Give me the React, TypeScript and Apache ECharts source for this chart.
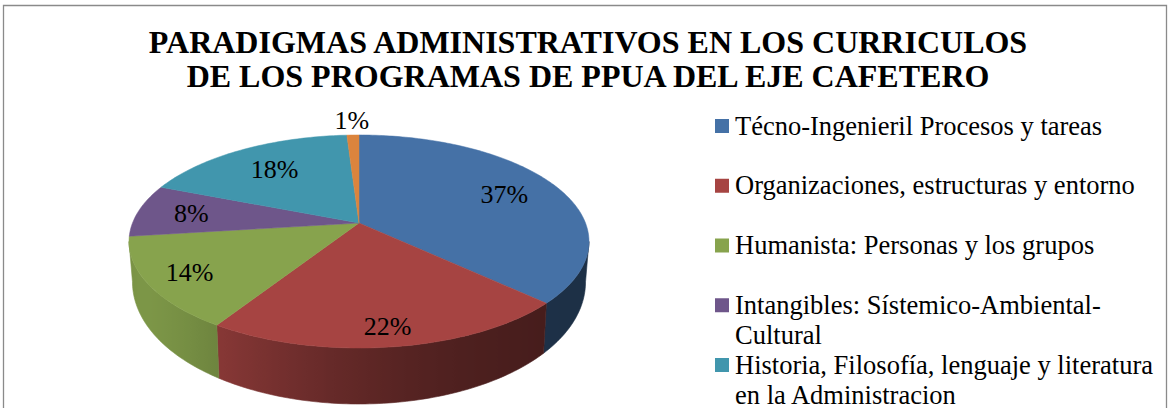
import React, { useEffect, useRef } from "react";
import * as echarts from "echarts";

// ---------- data ----------
const titleLines = [
  "PARADIGMAS ADMINISTRATIVOS EN LOS CURRICULOS",
  "DE LOS PROGRAMAS DE PPUA DEL EJE CAFETERO",
];
const categories = [
  "Técno-Ingenieril Procesos y tareas",
  "Organizaciones, estructuras y entorno",
  "Humanista: Personas y los grupos",
  "Intangibles: Sístemico-Ambiental-Cultural",
  "Historia, Filosofía, lenguaje y literatura en la Administracion",
  "Otros",
];
const legendLines = [
  ["Técno-Ingenieril Procesos y tareas"],
  ["Organizaciones, estructuras y entorno"],
  ["Humanista: Personas y los grupos"],
  ["Intangibles: Sístemico-Ambiental-", "Cultural"],
  ["Historia, Filosofía, lenguaje y literatura", "en la Administracion"],
];
const values = [37, 22, 14, 8, 18, 1];

// ---------- styles ----------
const topColors = ["#4571A6", "#A64442", "#87A34D", "#6E568A", "#4196AD", "#DB843D"];
const SERIF = "Liberation Serif";

// ---------- 3D projection geometry ----------
const CX = 359;
const CY = 223;
const RA = 226.5;
const RB = 103.3;
const PK = 0.1736;
const DEG = Math.PI / 180;
const EXTREME = Math.acos(-PK); // angle where the rim reaches its left/right silhouette

function project(u: number, v: number): number[] {
  const d = 1 - PK * v;
  return [CX + (RA * u) / d, CY + (RB * v) / d];
}
function rim(theta: number, r = 1): number[] {
  return project(r * Math.sin(theta), -r * Math.cos(theta));
}
function bottomRim(theta: number): number[] {
  const v = -Math.cos(theta);
  const p = rim(theta);
  return [CX + (p[0] - CX) * 0.985, p[1] + 37 + 19 * v];
}
function shadeFactor(theta: number): number {
  const c = (1 + Math.cos(theta - 240 * DEG)) / 2;
  return 0.42 + 0.5 * Math.pow(c, 4);
}
function shade(hex: string, f: number): string {
  const n = parseInt(hex.slice(1), 16);
  const r = Math.round(((n >> 16) & 255) * f);
  const g = Math.round(((n >> 8) & 255) * f);
  const b = Math.round((n & 255) * f);
  return `rgb(${r},${g},${b})`;
}

const total = values.reduce((a, b) => a + b, 0);
const starts: number[] = [];
values.reduce((acc, v, i) => {
  starts[i] = acc;
  return acc + v;
}, 0);

function renderSlice(params: any, api: any) {
  const i = params.dataIndex;
  const val = api.value(1) as number;
  const a0 = (2 * Math.PI * starts[i]) / total;
  const a1 = a0 + (2 * Math.PI * val) / total;
  const color = topColors[i];
  const children: any[] = [];

  // outer wall (visible front part only)
  const w0 = Math.max(a0, EXTREME);
  const w1 = Math.min(a1, 2 * Math.PI - EXTREME);
  if (w1 > w0) {
    const n = Math.max(2, Math.ceil((w1 - w0) / DEG));
    const topPts: number[][] = [];
    const botPts: number[][] = [];
    const thetas: number[] = [];
    for (let k = 0; k <= n; k++) {
      const t = w0 + ((w1 - w0) * k) / n;
      thetas.push(t);
      topPts.push(rim(t));
      botPts.push(bottomRim(t));
    }
    const pts = topPts.concat(botPts.slice().reverse());
    let minX = Infinity;
    let maxX = -Infinity;
    pts.forEach((p) => {
      minX = Math.min(minX, p[0]);
      maxX = Math.max(maxX, p[0]);
    });
    const span = Math.max(1, maxX - minX);
    const stops = thetas
      .map((t, k) => ({
        offset: Math.min(1, Math.max(0, (topPts[k][0] - minX) / span)),
        color: shade(color, shadeFactor(t)),
      }))
      .sort((a, b) => a.offset - b.offset);
    const grad = { type: "linear", x: 0, y: 0, x2: 1, y2: 0, colorStops: stops };
    children.push({
      type: "polygon",
      shape: { points: pts },
      style: { fill: grad, stroke: grad, lineWidth: 0.6 },
      z2: 1,
    });
  }

  // top face
  const n2 = Math.max(2, Math.ceil((a1 - a0) / DEG));
  const top: number[][] = [[CX, CY]];
  for (let k = 0; k <= n2; k++) top.push(rim(a0 + ((a1 - a0) * k) / n2));
  children.push({
    type: "polygon",
    shape: { points: top },
    style: { fill: color, stroke: color, lineWidth: 0.5 },
    z2: 10,
  });

  // label: inside (further out toward the viewer), tiny slices outside
  const mid = (a0 + a1) / 2;
  const share = val / total;
  const lr = share < 0.03 ? 1.2 : 0.77 + 0.09 * -Math.cos(mid);
  const lp = rim(mid, lr);
  children.push({
    type: "text",
    x: lp[0],
    y: lp[1],
    style: {
      text: `${Math.round(share * 100)}%`,
      fill: "#000",
      fontSize: 26,
      fontFamily: SERIF,
      align: "center",
      verticalAlign: "middle",
    },
    z2: 20,
  });

  return { type: "group", children };
}

export default function App() {
  const ref = useRef<HTMLDivElement>(null);

  useEffect(() => {
    if (!ref.current) return;
    const chart = echarts.init(ref.current, undefined, { renderer: "svg" });

    const graphics: any[] = [];
    // chart area border
    graphics.push({
      type: "rect",
      shape: { x: 3.5, y: 5.5, width: 1163, height: 600 },
      style: { fill: "none", stroke: "#8a8a8a", lineWidth: 1.3 },
      z: 0,
    });
    // title
    titleLines.forEach((line, k) => {
      graphics.push({
        type: "text",
        x: 588,
        y: 41.5 + k * 34,
        style: {
          text: line,
          fill: "#000",
          fontSize: 32,
          fontWeight: "bold",
          fontFamily: SERIF,
          align: "center",
          verticalAlign: "middle",
        },
      });
    });
    // legend
    legendLines.forEach((lines, i) => {
      const y0 = 125.5 + i * 59.75;
      graphics.push({
        type: "rect",
        shape: { x: 715, y: y0 - 6.5, width: 14, height: 14 },
        style: { fill: topColors[i] },
      });
      lines.forEach((ln, j) => {
        graphics.push({
          type: "text",
          x: 735,
          y: y0 + j * 30,
          style: {
            text: ln,
            fill: "#000",
            fontSize: 26.5,
            fontFamily: SERIF,
            align: "left",
            verticalAlign: "middle",
          },
        });
      });
    });

    chart.setOption({
      animation: false,
      backgroundColor: "#ffffff",
      graphic: { elements: graphics },
      series: [
        {
          type: "custom",
          name: "Paradigmas",
          coordinateSystem: "none",
          renderItem: renderSlice,
          data: values.map((v, i) => ({ name: categories[i], value: [i, v] })),
          silent: true,
        },
      ],
    });

    return () => chart.dispose();
  }, []);

  return (
    <div
      ref={ref}
      style={{ position: "fixed", left: 0, top: 0, width: 1170, height: 408, background: "#fff" }}
    />
  );
}
